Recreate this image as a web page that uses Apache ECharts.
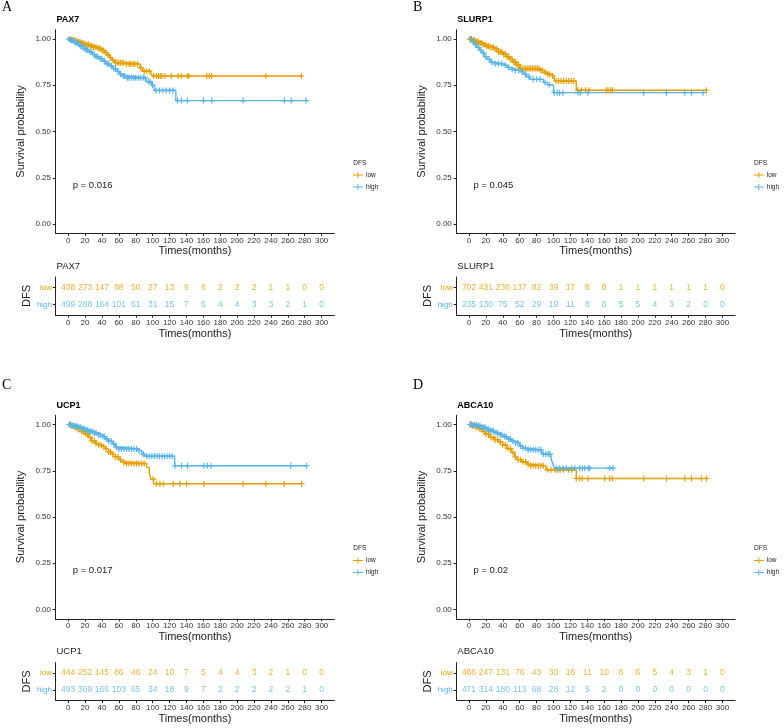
<!DOCTYPE html>
<html>
<head>
<meta charset="utf-8">
<script src="https://cdn.jsdelivr.net/npm/echarts@6/dist/echarts.min.js"></script>
<style>
html,body{margin:0;padding:0;background:#fff;}
#chart{width:784px;height:728px;}
</style>
</head>
<body>
<div id="chart"></div>
<script>
// ---------- DATA ----------
const tickMonths = [0,20,40,60,80,100,120,140,160,180,200,220,240,260,280,300];
const probTicks = [0,0.25,0.5,0.75,1];
const groupNames = ['low','high'];
const panelLetters = ['A','B','C','D'];
const geneNames = ['PAX7','SLURP1','UCP1','ABCA10'];
const pValues = ['p = 0.016','p = 0.045','p = 0.017','p = 0.02'];

// PAX7
const paxLowT = [0,4,8,12,16,20,25,30,35,40,43,46,49,52,55,68,85,88,98,100];
const paxLowS = [1,0.995,0.99,0.984,0.977,0.97,0.963,0.955,0.949,0.938,0.926,0.915,0.9,0.886,0.872,0.865,0.845,0.826,0.812,0.80];
const paxLowEnd = 277;
const paxLowCens = [2,4,6,8,10,12,14,16,18,20,22,24,26,28,30,32,34,36,38,40,42,45,47,50,53,56,58,60,62,64,66,69,72,74,77,79,82,86,90,93,96,101,104.5,107,109,111,114.5,122,130,134,141,143,164,167,170,234,276];
const paxHighT = [0,3,6,9,12,15,18,21,25,29,33,37,41,45,49,53,57,61,64,70,92,99,102,127.5];
const paxHighS = [1,0.993,0.986,0.978,0.97,0.96,0.95,0.94,0.928,0.915,0.904,0.893,0.88,0.866,0.855,0.84,0.825,0.81,0.8,0.79,0.77,0.75,0.722,0.667];
const paxHighEnd = 282;
const paxHighCens = [1,3,5,7,9,11,13,15,17,19,21,23,26,28,31,33,35,38,40,43,46,48,51,54,56,59,62,65,67,70,72,75,78,80,83,86,89,91,95,97,100,104,108,112,116,120,124,129.5,134,141,160,170,207,256,264,281.5];
const paxRiskLow = [438,273,147,88,50,27,13,9,6,2,2,2,1,1,0,0];
const paxRiskHigh = [499,288,164,101,61,31,15,7,6,4,4,3,3,2,1,0];

// SLURP1
const slurpLowT = [0,4,8,12,16,20,25,30,35,40,44,48,52,56,60,84,88,92,96,101,127];
const slurpLowS = [1,0.993,0.986,0.978,0.97,0.962,0.955,0.946,0.93,0.918,0.905,0.89,0.876,0.86,0.84,0.83,0.82,0.81,0.8,0.773,0.723];
const slurpLowEnd = 281;
const slurpLowCens = [1,3,5,7,9,11,13,15,17,19,21,23,25,27,29,31,33,35,37,39,41,43,45,47,49,51,53,55,57,59,61,63,65,67,69,71,73,75,77,79,81,83,85,87,90,93,95,99,103,106,109,112,115,118,121,124,129,133,138,142,162.6,164.6,167.7,169.6,281];
const slurpHighT = [0,3,6,9,12,15,18,21,25,30,40,45,50,55,60,64,68,72,88,93,100];
const slurpHighS = [1,0.985,0.97,0.955,0.94,0.925,0.905,0.89,0.875,0.866,0.858,0.846,0.836,0.83,0.822,0.81,0.796,0.782,0.765,0.753,0.71];
const slurpHighEnd = 277;
const slurpHighCens = [2,5,8,11,14,17,20,24,27,31,35,39,43,47,51,55,59,63,67,71,76,80,84,90,95,101,104.6,107.3,111.3,129,131.8,141,206.8,233.7,255.4,263.3,277];
const slurpRiskLow = [702,431,236,137,82,39,17,8,6,1,1,1,1,1,1,0];
const slurpRiskHigh = [235,130,75,52,29,19,11,8,6,5,5,4,3,2,0,0];

// UCP1
const ucpLowT = [0,4,8,12,16,20,24,28,32,36,40,44,48,52,56,60,64,67,93,96,98,101];
const ucpLowS = [1,0.992,0.984,0.975,0.962,0.948,0.93,0.912,0.898,0.888,0.88,0.868,0.852,0.838,0.825,0.81,0.797,0.789,0.768,0.735,0.705,0.68];
const ucpLowEnd = 276;
const ucpLowCens = [2,4,6,8,10,12,14,16,18,21,23,26,28,31,33,36,39,42,45,48,50,53,56,59,62,66,69,72,75,78,81,84,87,90,100.7,104.6,108.6,112.5,124.3,132.2,140.2,160.6,207,234,255.7,276.3];
const ucpHighT = [0,4,8,12,16,20,25,30,35,40,44,48,52,56,60,82,87,91,126];
const ucpHighS = [1,0.995,0.99,0.985,0.978,0.97,0.962,0.954,0.945,0.935,0.922,0.91,0.895,0.878,0.868,0.858,0.84,0.829,0.777];
const ucpHighEnd = 282;
const ucpHighCens = [1,3,5,7,9,11,13,15,17,19,21,23,25,27,29,31,33,36,38,41,43,46,48,51,54,57,60,63,66,69,72,75,78,81,84,89,93,96,99,102,105,108,111,114,117,120,123,126.3,134.2,141.3,160.6,164.6,169,263.3,282.2];
const ucpRiskLow = [444,252,145,86,46,24,10,7,5,4,4,3,2,1,0,0];
const ucpRiskHigh = [493,309,166,103,65,34,18,9,7,2,2,2,2,2,1,0];

// ABCA10
const abcLowT = [0,4,8,12,16,20,25,30,35,40,45,50,54,57,62,68,72,91,127];
const abcLowS = [1,0.993,0.985,0.975,0.962,0.948,0.93,0.918,0.905,0.89,0.87,0.849,0.825,0.81,0.798,0.786,0.777,0.755,0.708];
const abcLowEnd = 283;
const abcLowCens = [2,4,6,8,10,13,15,18,20,23,26,29,31,34,37,40,43,46,49,52,55,58,61,64,67,70,73,76,79,82,85,88,93,97,102,105,108,112,118,122,127,131,134,141,160.6,166.5,169.7,206.8,233.7,255.4,263.3,275.1,281];
const abcHighT = [0,5,10,15,20,25,30,35,40,45,50,55,60,64,70,86,97,99,101];
const abcHighS = [1,0.997,0.993,0.985,0.975,0.966,0.955,0.945,0.935,0.922,0.91,0.9,0.885,0.872,0.863,0.84,0.82,0.79,0.764];
const abcHighEnd = 170.5;
const abcHighCens = [1,3,5,7,9,11,13,15,17,19,21,23,25,27,29,32,34,37,39,42,44,47,49,52,55,58,61,64,67,70,73,76,79,82,85,88,91,94,96,103.4,107.3,111.3,115.2,121.2,125,131,134,137,141,142.8,166.5,170.5];
const abcRiskLow = [466,247,131,76,43,30,16,11,10,6,6,5,4,3,1,0];
const abcRiskHigh = [471,314,180,113,68,28,12,5,2,0,0,0,0,0,0,0];

// ---------- STYLE / LAYOUT ----------
const COL_LOW = '#E69F00', COL_HIGH = '#56B4E9';
const AXIS_COL = '#222', TXT = '#222';
const FONT = 'Liberation Sans, Arial, sans-serif';
const panels = [
  {lowT:paxLowT,lowS:paxLowS,lowEnd:paxLowEnd,lowC:paxLowCens,highT:paxHighT,highS:paxHighS,highEnd:paxHighEnd,highC:paxHighCens,rLow:paxRiskLow,rHigh:paxRiskHigh, x:55.5, y:0},
  {lowT:slurpLowT,lowS:slurpLowS,lowEnd:slurpLowEnd,lowC:slurpLowCens,highT:slurpHighT,highS:slurpHighS,highEnd:slurpHighEnd,highC:slurpHighCens,rLow:slurpRiskLow,rHigh:slurpRiskHigh, x:456.3, y:0},
  {lowT:ucpLowT,lowS:ucpLowS,lowEnd:ucpLowEnd,lowC:ucpLowCens,highT:ucpHighT,highS:ucpHighS,highEnd:ucpHighEnd,highC:ucpHighCens,rLow:ucpRiskLow,rHigh:ucpRiskHigh, x:55.5, y:385.5},
  {lowT:abcLowT,lowS:abcLowS,lowEnd:abcLowEnd,lowC:abcLowCens,highT:abcHighT,highS:abcHighS,highEnd:abcHighEnd,highC:abcHighCens,rLow:abcRiskLow,rHigh:abcRiskHigh, x:456.3, y:385.5}
];
const GW = 278.8;
const PLUS = 'path://M4,0H6V4H10V6H6V10H4V6H0V4H4Z';
const LEG_ICON = 'path://M0,2.6H4.5V0H5.5V2.6H10V3.4H5.5V6H4.5V3.4H0Z';

function stepLine(T, S, end) {
  const d = T.map((t, i) => [t, S[i]]);
  d.push([end, S[S.length - 1]]);
  return d;
}
function survAt(T, S, t) {
  let v = S[0];
  for (let i = 0; i < T.length; i++) { if (T[i] <= t) v = S[i]; }
  return v;
}

const grid = [], xAxis = [], yAxis = [], series = [], title = [], legend = [];

function xAx(gi, nameGap) {
  return {
    gridIndex: gi, type: 'value', min: -15, max: 315,
    name: 'Times(months)', nameLocation: 'middle', nameGap: nameGap,
    nameTextStyle: {fontSize: 11, color: TXT, fontFamily: FONT},
    axisLine: {show: true, onZero: false, lineStyle: {color: AXIS_COL, width: 1}},
    axisTick: {show: true, length: 2.7, lineStyle: {color: AXIS_COL}, customValues: tickMonths},
    axisLabel: {fontSize: 8, color: '#333', margin: 3.5, fontFamily: FONT, customValues: tickMonths},
    splitLine: {show: false}
  };
}

panels.forEach((p, k) => {
  const gKM = k * 2, gR = k * 2 + 1;
  grid.push({left: p.x, top: 29.75 + p.y, width: GW, height: 203.5, containLabel: false});
  grid.push({left: p.x, top: 277 + p.y, width: GW, height: 38, containLabel: false});
  xAxis.push(xAx(gKM, 12));
  xAxis.push(xAx(gR, 13));
  yAxis.push({
    gridIndex: gKM, type: 'value', min: -0.05, max: 1.05,
    name: 'Survival probability', nameLocation: 'middle', nameGap: 29, nameRotate: 90,
    nameTextStyle: {fontSize: 11, color: TXT, fontFamily: FONT},
    axisLine: {show: true, onZero: false, lineStyle: {color: AXIS_COL, width: 1}},
    axisTick: {show: true, length: 2.7, lineStyle: {color: AXIS_COL}, customValues: probTicks},
    axisLabel: {fontSize: 8, color: '#333', margin: 4.5, fontFamily: FONT, customValues: probTicks,
      formatter: v => Number(v).toFixed(2)},
    splitLine: {show: false}
  });
  yAxis.push({
    gridIndex: gR, type: 'value', min: 0.4, max: 2.6,
    name: 'DFS', nameLocation: 'middle', nameGap: 23, nameRotate: 90,
    nameTextStyle: {fontSize: 11, color: TXT, fontFamily: FONT},
    axisLine: {show: true, onZero: false, lineStyle: {color: AXIS_COL, width: 1}},
    axisTick: {show: true, length: 2.7, lineStyle: {color: AXIS_COL}, customValues: [1, 2]},
    axisLabel: {fontSize: 8, margin: 3.5, fontFamily: FONT, customValues: [1, 2],
      formatter: v => (Number(v) > 1.5 ? groupNames[0] : groupNames[1]),
      color: v => (Number(v) > 1.5 ? COL_LOW : COL_HIGH)},
    splitLine: {show: false}
  });

  const grp = [
    {name: groupNames[0], T: p.lowT, S: p.lowS, end: p.lowEnd, C: p.lowC, R: p.rLow, col: COL_LOW, row: 2},
    {name: groupNames[1], T: p.highT, S: p.highS, end: p.highEnd, C: p.highC, R: p.rHigh, col: COL_HIGH, row: 1}
  ];
  grp.forEach(g => {
    series.push({
      name: g.name, type: 'line', xAxisIndex: gKM, yAxisIndex: gKM, step: 'end',
      data: stepLine(g.T, g.S, g.end), showSymbol: false, symbol: 'none',
      lineStyle: {color: g.col, width: 1.4}, itemStyle: {color: g.col}, z: 2
    });
    series.push({
      name: g.name + ' censor', type: 'scatter', xAxisIndex: gKM, yAxisIndex: gKM,
      data: g.C.map(t => [t, survAt(g.T, g.S, t)]), symbol: PLUS, symbolSize: 6,
      itemStyle: {color: g.col, opacity: 1}, z: 3
    });
    series.push({
      name: g.name + ' risk', type: 'scatter', xAxisIndex: gR, yAxisIndex: gR,
      data: tickMonths.map((t, i) => [t, g.row, g.R[i]]), symbol: 'circle', symbolSize: 0.01,
      itemStyle: {color: 'rgba(0,0,0,0)'},
      label: {show: true, position: 'inside', formatter: q => String(q.value[2]), color: g.col, fontSize: 8.5, fontFamily: FONT}
    });
  });

  title.push({text: panelLetters[k], left: (k % 2 ? 413 : 2), top: (k < 2 ? 0 : 378), padding: 0,
    textStyle: {fontFamily: 'Liberation Serif, Times New Roman, serif', fontSize: 14, fontWeight: 'normal', color: '#000'}});
  title.push({text: geneNames[k], left: p.x + 1, top: 15.5 + p.y, padding: 0,
    textStyle: {fontFamily: FONT, fontSize: 9, fontWeight: 'bold', color: '#000'}});
  title.push({text: geneNames[k], left: p.x + 1, top: 261 + p.y, padding: 0,
    textStyle: {fontFamily: FONT, fontSize: 9.5, fontWeight: 'normal', color: TXT}});
  title.push({text: pValues[k], left: p.x + 17.2, top: 180 + p.y, padding: 0,
    textStyle: {fontFamily: FONT, fontSize: 9.5, fontWeight: 'normal', color: TXT}});
  title.push({text: 'DFS', left: p.x + 297.8, top: 159.7 + p.y, padding: 0,
    textStyle: {fontFamily: FONT, fontSize: 6.5, fontWeight: 'normal', color: TXT}});
  legend.push({
    data: groupNames, orient: 'vertical', left: p.x + 297.5, top: 171.5 + p.y, padding: 0,
    itemWidth: 10, itemHeight: 6, itemGap: 5, icon: LEG_ICON, selectedMode: false,
    textStyle: {fontSize: 6.5, color: TXT, fontFamily: FONT, padding: [0, 0, 0, -2]}
  });
});

const chart = echarts.init(document.getElementById('chart'), null, {renderer: 'canvas'});
chart.setOption({
  backgroundColor: '#fff', animation: false, tooltip: {show: false},
  title, legend, grid, xAxis, yAxis, series
});
</script>
</body>
</html>
